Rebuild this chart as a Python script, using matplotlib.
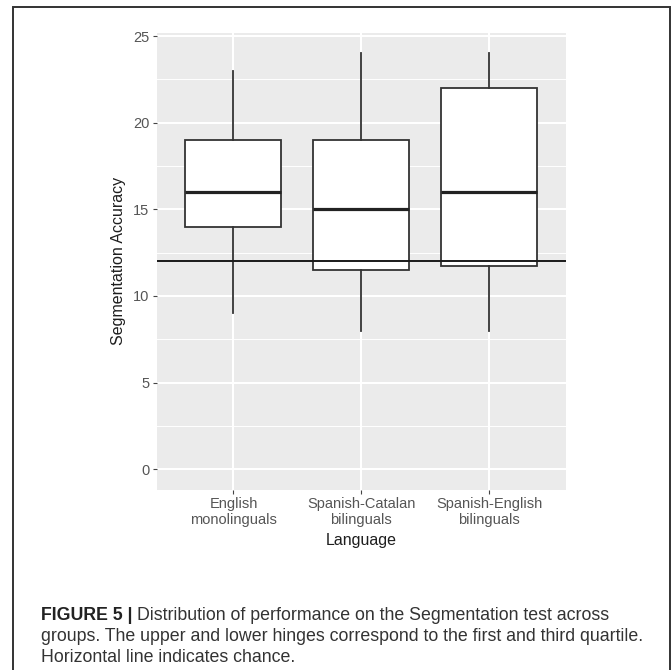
import matplotlib
matplotlib.use("Agg")
import matplotlib.pyplot as plt
from matplotlib.patches import Rectangle

plt.rcParams["font.family"] = ["Liberation Sans", "DejaVu Sans"]

# ---- data ----
categories = ["English\nmonolinguals", "Spanish-Catalan\nbilinguals", "Spanish-English\nbilinguals"]
whisker_low = [9, 8, 8]
q1 = [14, 11.5, 11.75]
median = [16, 15, 16]
q3 = [19, 19, 22]
whisker_high = [23, 24, 24]
chance = 12
y_ticks = [0, 5, 10, 15, 20, 25]
y_minor = [2.5, 7.5, 12.5, 17.5, 22.5]
x_title = "Language"
y_title = "Segmentation Accuracy"
caption_bold = "FIGURE 5 |"
caption_lines = [
    "Distribution of performance on the Segmentation test across",
    "groups. The upper and lower hinges correspond to the first and third quartile.",
    "Horizontal line indicates chance.",
]

W, H = 672, 670
fig = plt.figure(figsize=(W / 100, H / 100), dpi=100)

# panel in pixel coords
pl, pr, pt, pb = 156.7, 566.0, 32.7, 490.0
ax = fig.add_axes([pl / W, 1 - pb / H, (pr - pl) / W, (pb - pt) / H])
ax.set_facecolor("#EBEBEB")
for s in ax.spines.values():
    s.set_visible(False)

positions = list(range(1, len(categories) + 1))
stats = []
for i in range(len(categories)):
    stats.append(dict(med=median[i], q1=q1[i], q3=q3[i],
                      whislo=whisker_low[i], whishi=whisker_high[i], fliers=[]))

line_col = "#333333"
ax.bxp(stats, positions=positions, widths=0.75, showcaps=False, showfliers=False,
       patch_artist=True,
       boxprops=dict(facecolor="white", edgecolor=line_col, linewidth=1.3),
       whiskerprops=dict(color=line_col, linewidth=1.3),
       medianprops=dict(color="#222222", linewidth=2.3, solid_capstyle="butt"),
       zorder=3)

ax.axhline(chance, color="#1a1a1a", linewidth=1.4, zorder=5)

ax.set_xlim(0.4, 3.6)
ax.set_ylim(-1.2, 25.2)
ax.set_yticks(y_ticks)
ax.set_yticks(y_minor, minor=True)
ax.set_xticks(positions)
ax.set_xticklabels(categories, linespacing=1.15)
ax.grid(True, which="major", color="white", linewidth=1.5, zorder=0)
ax.grid(True, which="minor", axis="y", color="white", linewidth=0.7, zorder=0)
ax.set_axisbelow(True)

ax.tick_params(axis="both", which="major", length=3.2, width=0.8, color="#444444",
               labelcolor="#555555", labelsize=10.5)
ax.tick_params(axis="y", pad=2.2)
ax.tick_params(axis="x", pad=2.0)
ax.tick_params(which="minor", length=0)

ax.set_xlabel(x_title, fontsize=11.5, color="#1e1e1e")
ax.set_ylabel(y_title, fontsize=11.5, color="#1e1e1e")
ax.xaxis.set_label_coords(0.5, (pb - 541) / (pb - pt))
ax.xaxis.label.set_va("center")
ax.yaxis.set_label_coords((118 - pl) / (pr - pl), 0.5)
ax.yaxis.label.set_va("center")

# outer frame
fig.patches.append(Rectangle((13 / W, -0.02), (670 - 13) / W, 1 - 7 / H + 0.02,
                             transform=fig.transFigure, fill=False,
                             edgecolor="#333333", linewidth=1.4))

# caption: fit size so that line 2 spans ~605 px
renderer = fig.canvas.get_renderer()
probe = fig.text(0, 0, caption_lines[1], fontsize=10)
w = probe.get_window_extent(renderer).width
probe.remove()
cap_size = 10 * 605 / w

x0 = 41 / W
baselines = [620, 641, 662]
tb = fig.text(x0, 1 - baselines[0] / H, caption_bold, fontsize=cap_size,
              fontweight="bold", color="#222222", va="baseline", ha="left")
bb = tb.get_window_extent(renderer)
gap = 0.28 * cap_size * 100 / 72
fig.text((bb.x1 + gap) / W, 1 - baselines[0] / H, caption_lines[0], fontsize=cap_size,
         color="#333333", va="baseline", ha="left")
for line, b in zip(caption_lines[1:], baselines[1:]):
    fig.text(x0, 1 - b / H, line, fontsize=cap_size, color="#333333",
             va="baseline", ha="left")

fig.savefig("out.png", dpi=100)
